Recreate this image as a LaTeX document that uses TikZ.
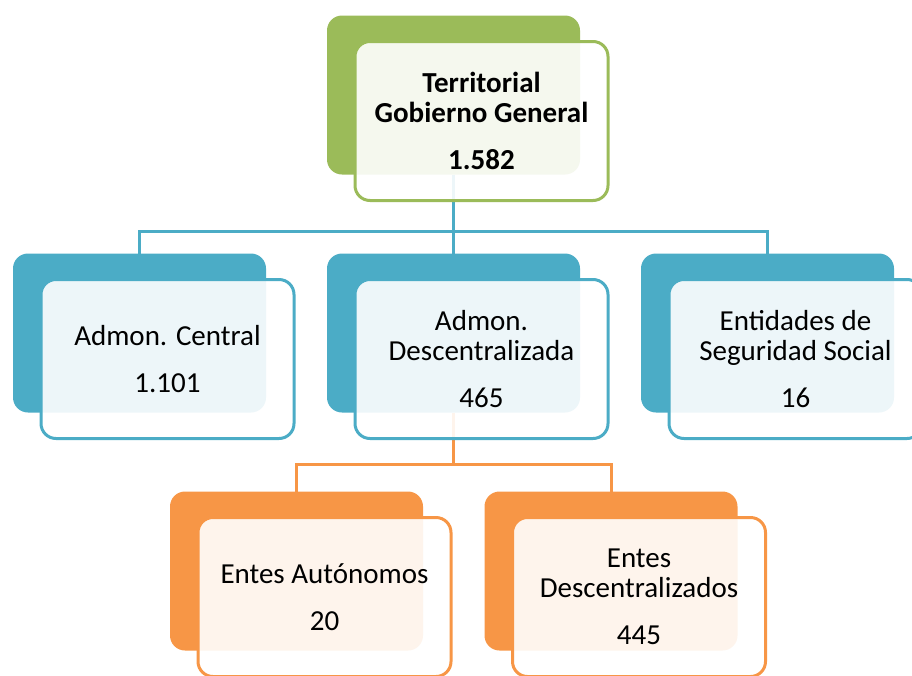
\documentclass[tikz,border=0pt]{standalone}
\usepackage{fontspec}
\setmainfont{Carlito}
\usetikzlibrary{positioning,calc}
\definecolor{ogGreen} {RGB}{155,187, 89}
\definecolor{ogBlue}  {RGB}{ 75,172,198}
\definecolor{ogOrange}{RGB}{247,150, 70}

\begin{document}
\begin{tikzpicture}[x=1pt,y=-1pt,
    every node/.style={align=center},
    card/.style={rectangle,rounded corners=15pt,minimum width=253pt,
                 minimum height=159pt,inner sep=0pt,outer sep=0pt},
    back/.style={card,fill=#1},
    front/.style={card,draw=#1,line width=3pt,fill=white,fill opacity=0.9,
                  text opacity=1,font=\fontsize{29}{30}\selectfont},
    link/.style={line width=3pt,draw=#1}
  ]
  \useasboundingbox (0,0) rectangle (912,675);
  % Back cards
  \node[back=ogGreen]  (gbB) at (453.5,95)  {};
  \node[back=ogBlue]   (acB) at (139.5,333) {};
  \node[back=ogBlue]   (adB) at (453.5,333) {};
  \node[back=ogBlue]   (esB) at (767.5,333) {};
  \node[back=ogOrange] (eaB) at (296.5,571) {};
  \node[back=ogOrange] (edB) at (611,571)   {};
  % Links
  \draw[link=ogBlue] (gbB.south) -- ++(0,57) -| (acB.north);
  \draw[link=ogBlue] (gbB.south) -- ++(0,57) -| (esB.north);
  \draw[link=ogBlue] (gbB.south) -- (adB.north);
  \draw[link=ogOrange] (adB.south) -- ++(0,52) -| (eaB.north);
  \draw[link=ogOrange] (adB.south) -- ++(0,52) -| (edB.north);
  % Front cards
  \node[front=ogGreen] (gbF) at (481.5,121)
    {\textbf{Territorial}\\\textbf{Gobierno General}\\[17pt]\textbf{1.582}};
  \node[front=ogBlue] (acF) at (167.5,359) {Admon. Central\\[17pt]1.101};
  \node[front=ogBlue] (adF) at (481.5,359) {Admon.\\Descentralizada\\[17pt]465};
  \node[front=ogBlue] (esF) at (795.5,359)
    {Entidades de\\Seguridad Social\\[17pt]16};
  \node[front=ogOrange] (eaF) at (324.5,597) {Entes Autónomos\\[17pt]20};
  \node[front=ogOrange] (edF) at (639,597)
    {Entes\\Descentralizados\\[17pt]445};
\end{tikzpicture}
\end{document}
